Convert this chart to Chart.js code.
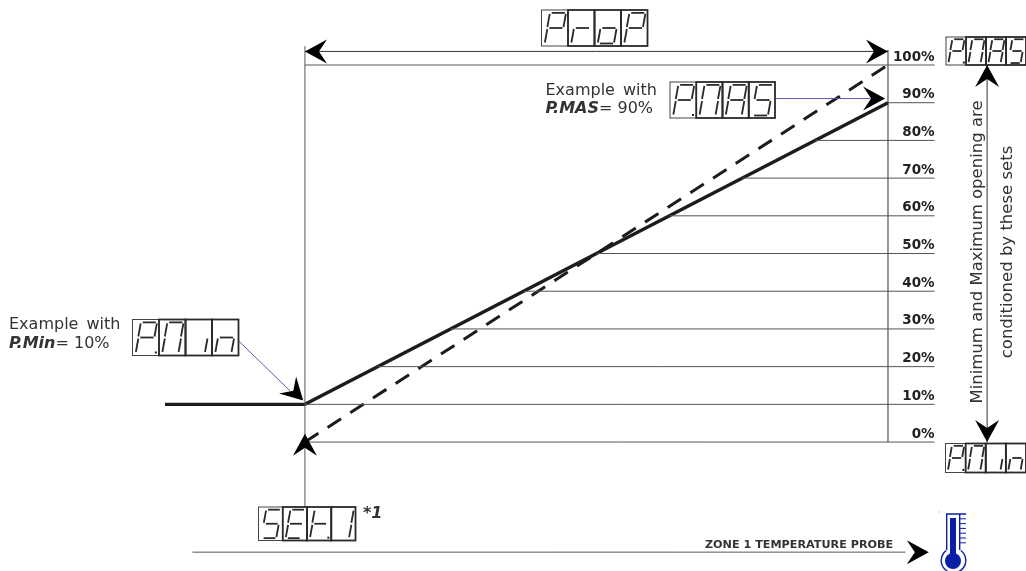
<!DOCTYPE html>
<html>
<head>
<meta charset="utf-8">
<title>Proportional band</title>
<script src="https://cdn.jsdelivr.net/npm/chart.js@4/dist/chart.umd.min.js"></script>
<style>
  html, body { margin: 0; padding: 0; background: #fff; }
  canvas { display: block; }
</style>
</head>
<body>
<canvas id="propChart" width="1026" height="571" role="img"
  aria-label="ProP, P.MAS, P.Min, SEt.1 displays on a proportional output diagram"></canvas>
<script>
// x axis is percent of the proportional band, y axis is percent of valve opening
const yTicks = [0, 10, 20, 30, 40, 50, 60, 70, 80, 90, 100];
const tickLabels = ['0%', '10%', '20%', '30%', '40%', '50%', '60%', '70%', '80%', '90%', '100%'];
const gridFrom = [0, 0, 12.5, 25, 37.5, 50, 62.5, 75, 87.5, 100, 0];
const gridTo = 108;

const limitedX = [-24, 0, 100];
const limitedY = [10, 10, 90];
const fullX = [0, 100];
const fullY = [0, 100];

const GRID = '#555';
const INK = '#1c1c1c';
const BLUE = '#5a5ab4';
const PROBE_BLUE = '#0a1fa8';

const SEGMENTS = {
  P: 'abefg', r: 'eg', o: 'cdeg', M: 'abcef', A: 'abcefg', S: 'acdfg',
  i: 'c', n: 'ceg', E: 'adefg', t: 'efg', '1': 'bc'
};

function toPoints(xs, ys) {
  return xs.map((x, i) => ({ x: x, y: ys[i] }));
}

function line(xs, ys, color, width, dash) {
  return {
    data: toPoints(xs, ys),
    showLine: true,
    borderColor: color,
    borderWidth: width,
    borderDash: dash || [],
    pointRadius: 0,
    borderCapStyle: 'butt',
    borderJoinStyle: 'miter'
  };
}

const datasets = [];
yTicks.forEach((v, i) => {
  datasets.push(line([gridFrom[i], gridTo], [v, v], GRID, 1));
});
datasets.push(line([0, 0], [-17.3, 105], '#555', 1));       // set point riser
datasets.push(line([100, 100], [0, 104], '#333', 1));
datasets.push(line([0, 100], [103.6, 103.6], '#333', 1));   // ProP dimension
datasets.push(line([117, 117], [0, 100], '#333', 1));       // opening range
datasets.push(line([-19.3, 103], [-29.2, -29.2], '#555', 1)); // probe
datasets.push(line([80.7, 97], [91.1, 91.1], BLUE, 1));     // P.MAS pointer
datasets.push(line([-11.5, -2.5], [27, 13.5], BLUE, 1));    // P.Min pointer
datasets.push(line(limitedX, limitedY, INK, 3.4));
datasets.push(line(fullX, fullY, INK, 3, [16, 11]));

// tip x, tip y in data values, pointing angle in degrees
const arrows = [
  [0, 103.6, 180], [100, 103.6, 0],
  [99.5, 91.1, 0],
  [-0.3, 11, 45],
  [0, 2.2, -90],
  [117, 100, -90], [117, 0, 90],
  [107, -29.2, 0]
];

const displays = [
  ['P', 'r', 'o', 'P', 541.5, 10, 106, 36],
  ['P.', 'M', 'A', 'S', 670, 82, 105, 36],
  ['P.', 'M', 'A', 'S', 946, 37, 80, 28],
  ['P.', 'M', 'i', 'n', 132.5, 319.5, 106, 36],
  ['S', 'E', 't.', '1', 258.5, 507, 97, 33.5],
  ['P.', 'M', 'i', 'n', 945.5, 443.5, 80.5, 29]
];

function drawArrow(ctx, x, y, deg) {
  ctx.save();
  ctx.translate(x, y);
  ctx.rotate(deg * Math.PI / 180);
  ctx.fillStyle = '#000';
  ctx.beginPath();
  ctx.moveTo(0, 0);
  ctx.lineTo(-22, -12);
  ctx.lineTo(-14, 0);
  ctx.lineTo(-22, 12);
  ctx.closePath();
  ctx.fill();
  ctx.restore();
}

function drawDigit(ctx, ch, x, y, w, h) {
  const on = SEGMENTS[ch[0]] || '';
  const slant = w * 0.09;
  const left = x + w * 0.22;
  const right = x + w * 0.83;
  const top = y + h * 0.08;
  const mid = y + h * 0.5;
  const bot = y + h * 0.93;
  const shift = yy => slant * (mid - yy) / (h * 0.42);
  const ends = {
    a: [left + shift(top) + 2, top, right + shift(top) - 1, top],
    b: [right + shift(top), top + 1, right, mid - 1],
    c: [right, mid + 1, right + shift(bot), bot - 1],
    d: [left + shift(bot) + 2, bot, right + shift(bot) - 1, bot],
    e: [left, mid + 1, left + shift(bot), bot - 1],
    f: [left + shift(top), top + 1, left, mid - 1],
    g: [left + 2, mid, right - 1, mid]
  };
  ctx.strokeStyle = '#2a2a2a';
  ctx.lineWidth = 1.8;
  for (const s of on) {
    const e = ends[s];
    ctx.beginPath();
    ctx.moveTo(e[0], e[1]);
    ctx.lineTo(e[2], e[3]);
    ctx.stroke();
  }
  if (ch.length > 1) {
    ctx.fillStyle = '#222';
    ctx.fillRect(x + w * 0.84, bot - 1.5, 2, 2);
  }
}

function drawDisplay(ctx, d) {
  const x = d[4], y = d[5], w = d[6] / 4, h = d[7];
  ctx.strokeStyle = '#444';
  ctx.lineWidth = 1;
  for (let i = 0; i < 4; i++) {
    ctx.strokeRect(x + i * w, y, w, h);
    drawDigit(ctx, d[i], x + i * w, y, w, h);
  }
}

function drawRuns(ctx, runs, x, y) {
  runs.forEach(run => {
    ctx.font = run[1];
    ctx.fillText(run[0], x, y);
    x += ctx.measureText(run[0]).width;
  });
}

function drawThermometer(ctx) {
  ctx.save();
  ctx.strokeStyle = PROBE_BLUE;
  ctx.fillStyle = PROBE_BLUE;
  ctx.lineWidth = 1.4;
  ctx.beginPath();
  ctx.arc(953.5, 560.5, 12.3, -Math.PI * 0.3, Math.PI * 1.3);
  ctx.moveTo(946.7, 550);
  ctx.lineTo(946.7, 514);
  ctx.lineTo(966, 514);
  ctx.moveTo(959.7, 514);
  ctx.lineTo(959.7, 550);
  ctx.stroke();
  ctx.fillRect(950, 518, 6, 36);
  ctx.beginPath();
  ctx.arc(953, 561, 8, 0, Math.PI * 2);
  ctx.fill();
  ctx.lineWidth = 1;
  for (let i = 1; i < 7; i++) {
    ctx.beginPath();
    ctx.moveTo(960, 514 + i * 4.8);
    ctx.lineTo(966, 514 + i * 4.8);
    ctx.stroke();
  }
  ctx.fillStyle = '#999';
  ctx.fillRect(938.5, 511.5, 1, 1);
  ctx.restore();
}

const annotations = {
  id: 'annotations',
  afterDatasetsDraw(chart) {
    const ctx = chart.ctx;
    const sx = chart.scales.x, sy = chart.scales.y;
    ctx.save();
    arrows.forEach(a => drawArrow(ctx, sx.getPixelForValue(a[0]), sy.getPixelForValue(a[1]), a[2]));
    displays.forEach(d => drawDisplay(ctx, d));

    ctx.fillStyle = '#333';
    ctx.textBaseline = 'alphabetic';
    ctx.wordSpacing = '3px';
    ctx.font = '16px "DejaVu Sans"';
    ctx.fillText('Example with', 545.5, 95);
    ctx.fillText('Example with', 9, 329);
    ctx.wordSpacing = '0px';
    drawRuns(ctx, [['P.MAS', 'italic bold 16px "DejaVu Sans"'], ['= 90%', '16px "DejaVu Sans"']], 545.5, 113);
    drawRuns(ctx, [['P.Min', 'italic bold 16px "DejaVu Sans"'], ['= 10%', '16px "DejaVu Sans"']], 9, 348);

    ctx.font = 'italic bold 16px "DejaVu Sans"';
    ctx.fillText('*1', 363, 518);
    ctx.font = 'bold 11.2px "DejaVu Sans"';
    ctx.fillText('ZONE 1 TEMPERATURE PROBE', 705, 548);

    ctx.font = '16.5px "DejaVu Sans"';
    ctx.textAlign = 'center';
    ctx.save();
    ctx.translate(982, 252);
    ctx.rotate(-Math.PI / 2);
    ctx.fillText('Minimum and Maximum opening are', 0, 0);
    ctx.fillText('conditioned by these sets', 0, 30);
    ctx.restore();
    ctx.textAlign = 'left';

    drawThermometer(ctx);
    ctx.restore();
  }
};

new Chart(document.getElementById('propChart'), {
  type: 'scatter',
  data: { datasets: datasets },
  plugins: [annotations],
  options: {
    responsive: false,
    animation: false,
    layout: { padding: 0 },
    plugins: { legend: { display: false }, tooltip: { enabled: false } },
    scales: {
      x: { type: 'linear', display: false, min: -52.3, max: 123.67 },
      y: {
        type: 'linear',
        min: -34.2,
        max: 117.24,
        position: { x: gridTo },
        border: { display: false },
        grid: { display: false, drawTicks: false },
        afterBuildTicks: axis => { axis.ticks = yTicks.map(v => ({ value: v })); },
        afterFit: axis => { axis.paddingTop = 0; axis.paddingBottom = 0; },
        ticks: {
          autoSkip: false,
          padding: 0,
          labelOffset: -8,
          color: '#222',
          font: { family: '"DejaVu Sans"', size: 13.5, weight: 'bold' },
          callback: (v) => tickLabels[yTicks.indexOf(v)]
        }
      }
    }
  }
});
</script>
</body>
</html>
